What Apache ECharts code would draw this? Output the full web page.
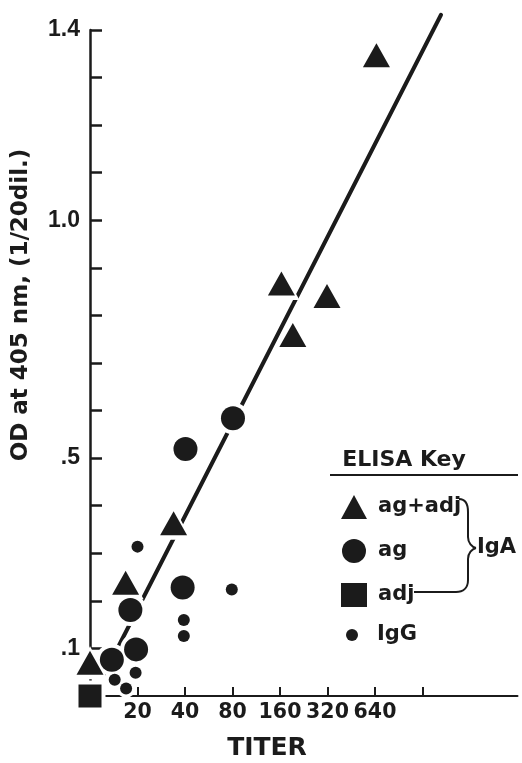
<!DOCTYPE html>
<html><head><meta charset="utf-8">
<script src="https://cdn.jsdelivr.net/npm/echarts@6/dist/echarts.min.js"></script>
<style>html,body{margin:0;padding:0;background:#fff}#c{width:522px;height:763px}</style>
</head><body><div id="c"></div>
<script>
// Titer axis positions are in doublings above 1:10  (20 = 1, 40 = 2, 80 = 3, ... 640 = 6)
const titerTickPos = [1, 2, 3, 4, 5, 6, 7];
const titerLabelPos = [1, 2, 3, 4, 5, 6];
const titerLabels = ['20', '40', '80', '160', '320', '640'];
const odLabelTicks = [0.1, 0.5, 1.0, 1.4];
const odLabels = ['.1', '.5', '1.0', '1.4'];

// IgA, ag + adj (triangles)
const agAdjX = [0, 0.75, 1.76, 4.03, 4.27, 4.99, 6.03];
const agAdjY = [0.070, 0.238, 0.363, 0.867, 0.759, 0.841, 1.347];
// IgA, ag (large circles)
const agX = [0.46, 0.85, 0.97, 1.95, 2.01, 3.01];
const agY = [0.076, 0.181, 0.098, 0.228, 0.519, 0.584];
// IgA, adj (square)
const adjX = [0];
const adjY = [0.0];
// IgG (small dots)
const iggX = [0.52, 0.76, 0.96, 1.0, 1.975, 1.975, 2.985];
const iggY = [0.034, 0.016, 0.049, 0.314, 0.160, 0.126, 0.224];
// fitted line end points
const fitX = [0.27, 7.39];
const fitY = [0.040, 1.432];

const dark = '#1b1b1b';
const pts = (xs, ys) => xs.map((x, i) => [x, ys[i]]);
const txt = (size, fam) => ({ fontFamily: fam || 'DejaVu Sans', fontWeight: 'bold', fontSize: size, fill: dark });

function halo(name, xs, ys, symbol, size) {
  return { type: 'scatter', name: name, data: pts(xs, ys), symbol: symbol, symbolSize: size,
    itemStyle: { color: '#ffffff', opacity: 1 }, z: 3, clip: false, silent: true };
}
function marks(name, xs, ys, symbol, size) {
  return { type: 'scatter', name: name, data: pts(xs, ys), symbol: symbol, symbolSize: size,
    itemStyle: { color: dark, opacity: 1 }, z: 4, clip: false };
}

const chart = echarts.init(document.getElementById('c'), null, { renderer: 'canvas' });
chart.setOption({
  animation: false,
  backgroundColor: '#fff',
  grid: { left: 90, right: 4.5, top: 30, bottom: 67, containLabel: false },
  xAxis: {
    type: 'value', min: 0, max: 9,
    axisLine: { show: true, onZero: false, lineStyle: { color: dark, width: 2 } },
    axisTick: { show: true, inside: true, length: 9, customValues: titerTickPos, lineStyle: { color: dark, width: 2 } },
    axisLabel: { customValues: titerLabelPos, formatter: v => titerLabels[Math.round(v) - 1] || '',
      margin: 6, fontFamily: 'DejaVu Sans', fontWeight: 'bold', fontSize: 20.5, color: dark },
    splitLine: { show: false }
  },
  yAxis: {
    type: 'value', min: 0, max: 1.4, interval: 0.1,
    axisLine: { show: true, onZero: false, lineStyle: { color: dark, width: 2.5 } },
    axisTick: { show: true, inside: true, length: 12, lineStyle: { color: dark, width: 2.5 } },
    axisLabel: {
      formatter: v => { const k = odLabelTicks.findIndex(t => Math.abs(t - v) < 1e-6); return k >= 0 ? odLabels[k] : ''; },
      margin: 10, fontFamily: 'Liberation Sans', fontWeight: 'bold', fontSize: 23, color: dark },
    splitLine: { show: false }
  },
  legend: [
    { data: ['ag+adj', 'ag', 'adj'], orient: 'vertical', left: 336, top: 490,
      itemWidth: 26, itemHeight: 24, itemGap: 20, selectedMode: false,
      itemStyle: { borderWidth: 0, opacity: 1 },
      textStyle: { fontFamily: 'DejaVu Sans', fontWeight: 'bold', fontSize: 21, color: dark, lineHeight: 24, padding: [0, 0, 0, 6] } },
    { data: ['IgG'], orient: 'vertical', left: 341, top: 618,
      itemWidth: 12, itemHeight: 12, selectedMode: false,
      itemStyle: { borderWidth: 0, opacity: 1 },
      textStyle: { fontFamily: 'DejaVu Sans', fontWeight: 'bold', fontSize: 21, color: dark, lineHeight: 24, padding: [0, 0, 0, 14] } }
  ],
  series: [
    { type: 'line', name: 'fit', data: pts(fitX, fitY), symbol: 'none', clip: false, silent: true, z: 2,
      lineStyle: { color: dark, width: 4, cap: 'round' } },
    halo('h1', agAdjX, agAdjY, 'triangle', [36, 33]),
    halo('h2', agX, agY, 'circle', 32),
    halo('h3', adjX, adjY, 'rect', 31),
    halo('h4', iggX, iggY, 'circle', 19),
    marks('ag+adj', agAdjX, agAdjY, 'triangle', [27, 24]),
    marks('ag', agX, agY, 'circle', 24),
    marks('adj', adjX, adjY, 'rect', 23),
    marks('IgG', iggX, iggY, 'circle', 12)
  ],
  graphic: [
    { type: 'text', x: 21, y: 305, rotation: Math.PI / 2,
      style: Object.assign(txt(23), { text: 'OD at 405 nm, (1/20dil.)', align: 'center', verticalAlign: 'middle' }) },
    { type: 'text', x: 267, y: 748,
      style: Object.assign(txt(25), { text: 'TITER', align: 'center', verticalAlign: 'middle' }) },
    { type: 'text', x: 404, y: 460,
      style: Object.assign(txt(22), { text: 'ELISA Key', align: 'center', verticalAlign: 'middle' }) },
    { type: 'line', shape: { x1: 330, y1: 475, x2: 518, y2: 475 }, style: { stroke: dark, lineWidth: 2 } },
    { type: 'text', x: 477, y: 548,
      style: Object.assign(txt(21), { text: 'IgA', align: 'left', verticalAlign: 'middle' }) },
    { type: 'bezierCurve', shape: { x1: 459, y1: 499, cpx1: 465, cpy1: 499, cpx2: 468, cpy2: 504, x2: 468, y2: 512 },
      style: { stroke: dark, lineWidth: 2, fill: null } },
    { type: 'line', shape: { x1: 468, y1: 512, x2: 468, y2: 537 }, style: { stroke: dark, lineWidth: 2 } },
    { type: 'bezierCurve', shape: { x1: 468, y1: 537, cpx1: 468, cpy1: 543, cpx2: 472, cpy2: 547, x2: 476, y2: 548 },
      style: { stroke: dark, lineWidth: 2, fill: null } },
    { type: 'bezierCurve', shape: { x1: 476, y1: 548, cpx1: 472, cpy1: 549, cpx2: 468, cpy2: 553, x2: 468, y2: 559 },
      style: { stroke: dark, lineWidth: 2, fill: null } },
    { type: 'line', shape: { x1: 468, y1: 559, x2: 468, y2: 580 }, style: { stroke: dark, lineWidth: 2 } },
    { type: 'bezierCurve', shape: { x1: 468, y1: 580, cpx1: 468, cpy1: 588, cpx2: 463, cpy2: 592, x2: 456, y2: 592 },
      style: { stroke: dark, lineWidth: 2, fill: null } },
    { type: 'line', shape: { x1: 456, y1: 592, x2: 414, y2: 592 }, style: { stroke: dark, lineWidth: 2 } }
  ]
});
</script>
</body></html>
